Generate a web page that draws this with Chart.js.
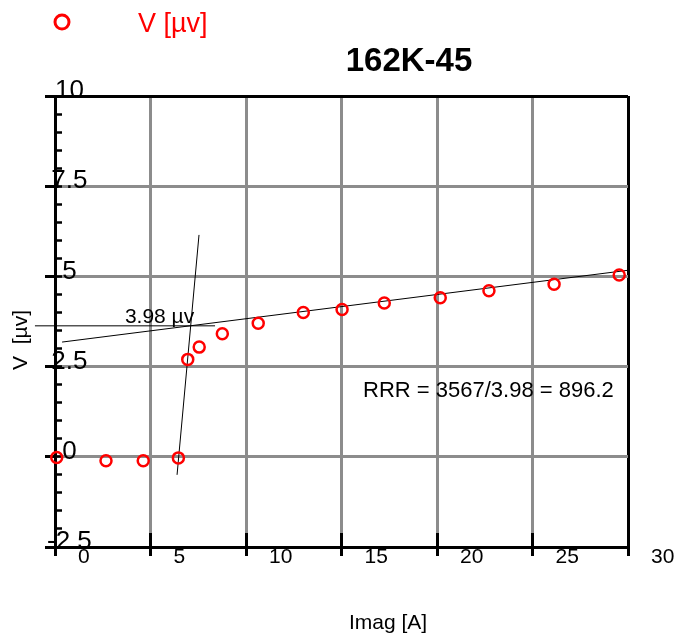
<!DOCTYPE html>
<html>
<head>
<meta charset="utf-8">
<script src="https://cdn.jsdelivr.net/npm/chart.js@4.4.1/dist/chart.umd.min.js"></script>
<style>
  html, body { margin: 0; padding: 0; background: #fff; }
</style>
</head>
<body>
<canvas id="chart" width="675" height="636"></canvas>
<script>
/* ============ Data ============ */
const SERIES_LABEL = "V [µv]";
const imag = [0.09, 2.67, 4.62, 6.46, 6.95, 7.55, 8.76, 10.64, 13.0, 15.03, 17.24, 20.17, 22.72, 26.13, 29.54];
const volt = [-0.02, -0.11, -0.11, -0.03, 2.70, 3.04, 3.41, 3.70, 4.00, 4.08, 4.26, 4.41, 4.60, 4.78, 5.04];

// hand-drawn construction lines
const fitX = [0.37, 30];
const fitY = [3.18, 5.17];
const markX = [-1.05, 8.38];
const markY = [3.63, 3.63];
const kneeX = [7.54, 6.39];
const kneeY = [6.15, -0.5];

const TITLE = "162K-45";
const X_TITLE = "Imag [A]";
const Y_TITLE = "V  [µv]";
const MARK_TEXT = "3.98 µv";
const RRR_TEXT = "RRR = 3567/3.98 = 896.2";

/* ============ Style ============ */
const FONT = '"Liberation Sans", Arial, Helvetica, sans-serif';
const INK = "#000000";
const GRID = "#8c8c8c";
const RED = "#ff0000";

const pts = (xs, ys) => xs.map((v, i) => ({x: v, y: ys[i]}));
const edge = (lo, hi) => c => (c.tick && (c.tick.value === lo || c.tick.value === hi)) ? INK : GRID;
const thin = s => { s.width = 0; };

/* ============ Extra text drawn on canvas ============ */
function say(ctx, str, x, y, size, color, align, weight) {
    ctx.font = `${weight || "normal"} ${size}px ${FONT}`;
    ctx.fillStyle = color;
    ctx.textAlign = align || "left";
    ctx.textBaseline = "alphabetic";
    ctx.fillText(str, x, y);
}

const decor = {
    id: "decor",
    afterDraw(chart) {
        const {ctx, scales: {x, y}} = chart;
        ctx.save();
        // legend
        ctx.strokeStyle = RED;
        ctx.lineWidth = 3;
        ctx.beginPath();
        ctx.arc(62, 22, 7, 0, Math.PI * 2);
        ctx.stroke();
        say(ctx, SERIES_LABEL, 138, 32, 27, RED);
        // title
        say(ctx, TITLE, 409, 71, 33, INK, "center", "bold");
        // axis titles
        say(ctx, X_TITLE, 388, 629, 21, INK, "center");
        ctx.save();
        ctx.translate(27, 340);
        ctx.rotate(-Math.PI / 2);
        say(ctx, Y_TITLE, 0, 0, 21, INK, "center");
        ctx.restore();
        // annotations
        say(ctx, MARK_TEXT, x.getPixelForValue(3.66), y.getPixelForValue(3.71), 21, INK);
        say(ctx, RRR_TEXT, x.getPixelForValue(16.13), y.getPixelForValue(1.66), 22, INK);
        ctx.restore();
    }
};

/* ============ Chart ============ */
const line = (data) => ({
    type: "scatter",
    data,
    showLine: true,
    borderColor: INK,
    borderWidth: 1,
    pointRadius: 0,
    clip: false
});

new Chart(document.getElementById("chart"), {
    type: "scatter",
    data: {
        datasets: [
            {
                label: SERIES_LABEL,
                data: pts(imag, volt),
                pointStyle: "circle",
                pointRadius: 5.5,
                borderColor: RED,
                backgroundColor: "rgba(0,0,0,0)",
                borderWidth: 2.5,
                clip: false
            },
            line(pts(fitX, fitY)),
            line(pts(markX, markY)),
            line(pts(kneeX, kneeY))
        ]
    },
    options: {
        responsive: false,
        animation: false,
        layout: {padding: {left: 55, top: 96, right: 47, bottom: 0}},
        plugins: {legend: {display: false}, tooltip: {enabled: false}},
        scales: {
            xIn: {
                type: "linear", position: "bottom", weight: 0, min: 0, max: 30,
                afterFit: s => { s.height = 0; },
                ticks: {stepSize: 5, display: false},
                grid: {z: 0, drawOnChartArea: false, tickColor: INK, tickWidth: 3, tickLength: -14},
                border: {display: false}
            },
            x: {
                type: "linear", position: "bottom", weight: 1, min: 0, max: 30,
                afterFit: s => { s.height = 89; },
                ticks: {stepSize: 5, align: "start", labelOffset: 23, padding: -11, color: INK,
                    font: {family: FONT, size: 21}},
                grid: {color: edge(0, 30), lineWidth: 3, tickColor: INK, tickWidth: 3, tickLength: 9},
                border: {color: INK, width: 3}
            },
            y: {
                type: "linear", position: "left", min: -2.5, max: 10, afterFit: thin,
                ticks: {stepSize: 2.5, mirror: true, crossAlign: "center", padding: -8, labelOffset: -5,
                    color: INK, font: {family: FONT, size: 26}},
                grid: {color: edge(-2.5, 10), lineWidth: 3, tickColor: INK, tickWidth: 3, tickLength: 10},
                border: {color: INK, width: 3}
            },
            yIn: {
                type: "linear", position: "left", min: -2.5, max: 10, afterFit: thin,
                ticks: {stepSize: 0.5, display: false},
                grid: {z: 0, drawOnChartArea: false, tickColor: INK, tickWidth: 2.5, tickLength: -7},
                border: {display: false}
            }
        }
    },
    plugins: [decor]
});
</script>
</body>
</html>
